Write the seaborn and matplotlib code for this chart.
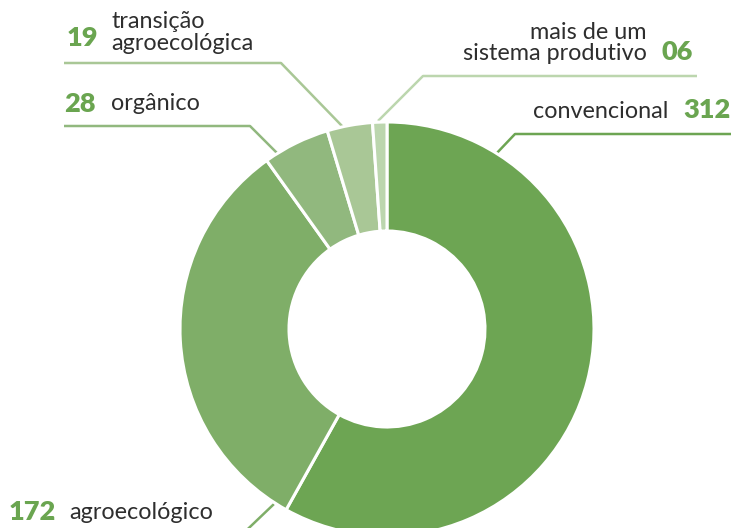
import matplotlib
matplotlib.use("Agg")
import matplotlib.pyplot as plt
import seaborn as sns

# ---- data ----
categories = ["convencional", "agroecológico", "orgânico", "transição agroecológica", "mais de um sistema produtivo"]
values = [312, 172, 28, 19, 6]
value_labels = ["312", "172", "28", "19", "06"]
colors = ["#6da553", "#7fae68", "#91b87e", "#a9c796", "#bcd6ae"]

sns.set_theme(style="white")
plt.rcParams["font.family"] = ["Lato", "DejaVu Sans"]

W, H = 731, 528
fig = plt.figure(figsize=(W / 100, H / 100), dpi=100)
ax = fig.add_axes([0, 0, 1, 1])

def Y(py):
    return H - py

cx, cy, R, r_in = 387, 329, 207, 98
ax.pie(values, colors=colors, startangle=90, counterclock=False,
       center=(cx, Y(cy)), radius=R,
       wedgeprops=dict(width=R - r_in, edgecolor="white", linewidth=2.2))

ax.set_xlim(0, W)
ax.set_ylim(0, H)
ax.set_aspect("auto")
ax.axis("off")

txt_col = "#2e2e2e"
num_col = "#6aa550"
lab_fs = 16.8
num_fs = 19.5
num_w = "heavy"

def line(pts, color):
    xs = [p[0] for p in pts]
    ys = [Y(p[1]) for p in pts]
    ax.plot(xs, ys, color=color, lw=1.8, solid_capstyle="butt", zorder=0.5)

# convencional
line([(731, 134), (515, 134), (495, 155)], colors[0])
ax.text(668, Y(118), categories[0], ha="right", va="baseline", fontsize=lab_fs, color=txt_col)
ax.text(683, Y(118), value_labels[0], ha="left", va="baseline", fontsize=num_fs, color=num_col, fontweight=num_w)

# mais de um sistema produtivo
line([(697, 76), (423, 76), (378, 121)], colors[4])
ax.text(647, Y(39), "mais de um", ha="right", va="baseline", fontsize=lab_fs, color=txt_col)
ax.text(647, Y(60), "sistema produtivo", ha="right", va="baseline", fontsize=lab_fs, color=txt_col)
ax.text(662, Y(60), value_labels[4], ha="left", va="baseline", fontsize=num_fs, color=num_col, fontweight=num_w)

# transição agroecológica
line([(64, 63), (281, 63), (343, 127)], colors[3])
ax.text(111, Y(28), "transição", ha="left", va="baseline", fontsize=lab_fs, color=txt_col)
ax.text(111, Y(50), "agroecológica", ha="left", va="baseline", fontsize=lab_fs, color=txt_col)
ax.text(67, Y(46), value_labels[3], ha="left", va="baseline", fontsize=num_fs, color=num_col, fontweight=num_w)

# orgânico
line([(64, 126), (250, 126), (277, 153)], colors[2])
ax.text(111, Y(110), categories[2], ha="left", va="baseline", fontsize=lab_fs, color=txt_col)
ax.text(64, Y(112), value_labels[2], ha="left", va="baseline", fontsize=num_fs, color=num_col, fontweight=num_w)

# agroecológico
line([(274, 504), (230, 546)], colors[1])
ax.text(69, Y(519), categories[1], ha="left", va="baseline", fontsize=lab_fs, color=txt_col)
ax.text(9, Y(520), value_labels[1], ha="left", va="baseline", fontsize=num_fs, color=num_col, fontweight=num_w)

fig.savefig("out.png", dpi=100, facecolor="white")
